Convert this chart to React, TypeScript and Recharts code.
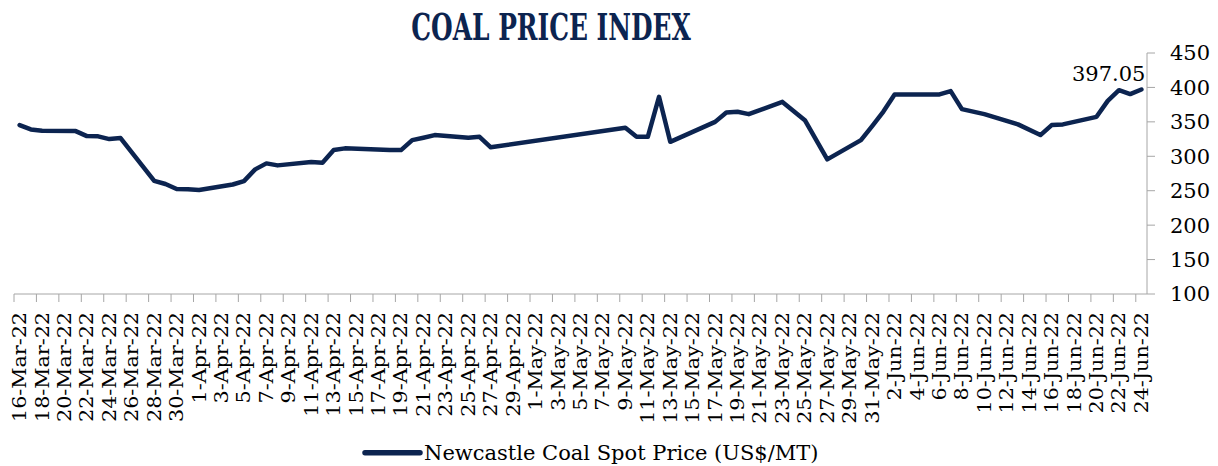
import React from "react";
import { LineChart, Line, XAxis, YAxis, LabelList } from "recharts";

// trading days with a quoted price (gaps = no quote)
const dates = [
  "2022-03-16", "2022-03-17", "2022-03-18", "2022-03-21", "2022-03-22",
  "2022-03-23", "2022-03-24", "2022-03-25", "2022-03-28", "2022-03-29",
  "2022-03-30", "2022-03-31", "2022-04-01", "2022-04-04", "2022-04-05",
  "2022-04-06", "2022-04-07", "2022-04-08", "2022-04-11", "2022-04-12",
  "2022-04-13", "2022-04-14", "2022-04-18", "2022-04-19", "2022-04-20",
  "2022-04-21", "2022-04-22", "2022-04-25", "2022-04-26", "2022-04-27",
  "2022-05-09", "2022-05-10", "2022-05-11", "2022-05-12", "2022-05-13",
  "2022-05-17", "2022-05-18", "2022-05-19", "2022-05-20", "2022-05-23",
  "2022-05-25", "2022-05-27", "2022-05-30", "2022-05-31", "2022-06-01",
  "2022-06-02", "2022-06-03", "2022-06-06", "2022-06-07", "2022-06-08",
  "2022-06-10", "2022-06-13", "2022-06-15", "2022-06-16", "2022-06-17",
  "2022-06-20", "2022-06-21", "2022-06-22", "2022-06-23", "2022-06-24",
];

const prices = [
  345.3, 339, 337, 336.6, 329.3,
  329, 325, 326.4, 264.4, 259.7,
  252.4, 252, 251, 259, 264,
  281, 289.7, 286.8, 291.6, 290.6,
  309, 311.5, 309, 309, 323.5,
  327, 330.8, 327, 328.3, 313,
  341.4, 328.3, 328.3, 386.4, 321,
  350, 363.7, 364.6, 361.2, 379,
  352.5, 295.5, 323.5, 343.8, 365,
  389.8, 389.8, 389.8, 394.6, 368.5,
  361.2, 346.3, 330.8, 345.3, 346.3,
  357.3, 380.5, 396, 390.3, 397.05,
];

const yTicks = [100, 150, 200, 250, 300, 350, 400, 450];
const monthNames = ["Jan", "Feb", "Mar", "Apr", "May", "Jun", "Jul", "Aug", "Sep", "Oct", "Nov", "Dec"];
const startDate = "2022-03-16";
const endDate = "2022-06-24";
const seriesName = "Newcastle Coal Spot Price (US$/MT)";
const title = "COAL PRICE INDEX";

const DAY = 86400000;
const t0 = Date.parse(startDate + "T00:00:00Z");
const dayOf = (d: string) => Math.round((Date.parse(d + "T00:00:00Z") - t0) / DAY);
const lastDay = dayOf(endDate);

const data = dates.map((d, i) => ({ day: dayOf(d), price: prices[i] }));
const xTicks: number[] = [];
for (let d = 0; d <= lastDay; d += 2) xTicks.push(d);

const fmtDay = (n: number) => {
  const dt = new Date(t0 + n * DAY);
  const yy = String(dt.getUTCFullYear()).slice(2);
  return `${dt.getUTCDate()}-${monthNames[dt.getUTCMonth()]}-${yy}`;
};

const W = 1218;
const H = 466;
const PLOT_LEFT = 14;
const PLOT_RIGHT = 1147;
const PLOT_TOP = 53;
const PLOT_BOTTOM = 294;
const CELL = (PLOT_RIGHT - PLOT_LEFT) / (lastDay + 1);

const NAVY = "#0c2450";
const GRAY = "#a6a6a6";
const FONT = "'DejaVu Serif', serif";

const XTick = (props: any) => {
  const { x, y, payload } = props;
  return (
    <g>
      <line x1={x - CELL / 2} x2={x - CELL / 2} y1={y} y2={y + 8} stroke={GRAY} />
      <text
        transform={`translate(${x},${y + 18}) rotate(-90) scale(1.15,1)`}
        textAnchor="end"
        dy="0.36em"
        fontFamily={FONT}
        fontSize={18}
        fill="#000"
      >
        {fmtDay(payload.value)}
      </text>
    </g>
  );
};

const lastIdx = data.length - 1;
const LastLabel = (props: any) => {
  const { x, y, index, value } = props;
  if (index !== lastIdx) return <g />;
  return (
    <text x={x + 4} y={y - 8} textAnchor="end" fontFamily={FONT} fontSize={21} fill="#000">
      {value}
    </text>
  );
};

export default function App() {
  return (
    <div style={{ position: "relative", width: W, height: H, background: "#fff" }}>
      <style>{`body{margin:0}`}</style>
      <LineChart
        width={W}
        height={H}
        data={data}
        margin={{ top: PLOT_TOP, right: 0, bottom: 0, left: PLOT_LEFT }}
      >
        <XAxis
          dataKey="day"
          type="number"
          domain={[-0.5, lastDay + 0.5]}
          ticks={xTicks}
          interval={0}
          height={H - PLOT_BOTTOM}
          tickSize={0}
          tickMargin={0}
          tickLine={false}
          axisLine={{ stroke: GRAY }}
          tick={(p: any) => <XTick {...p} />}
        />
        <YAxis
          orientation="right"
          width={W - PLOT_RIGHT}
          domain={[100, 450]}
          ticks={yTicks}
          interval={0}
          tickSize={8}
          tickMargin={15}
          tickLine={{ stroke: GRAY }}
          axisLine={{ stroke: GRAY }}
          tick={{ fontFamily: FONT, fontSize: 21, fill: "#000" }}
        />
        <Line
          type="linear"
          dataKey="price"
          stroke={NAVY}
          strokeWidth={4.5}
          strokeLinejoin="round"
          strokeLinecap="round"
          dot={false}
          isAnimationActive={false}
        >
          <LabelList dataKey="price" content={(p: any) => <LastLabel {...p} />} />
        </Line>
      </LineChart>
      <svg
        width={W}
        height={H}
        style={{ position: "absolute", left: 0, top: 0, pointerEvents: "none" }}
      >
        <text
          transform="translate(551,40) scale(0.68,1)"
          textAnchor="middle"
          fontFamily={FONT}
          fontWeight="bold"
          fontSize={36.6}
          fill={NAVY}
        >
          {title}
        </text>
        <line x1={365} x2={420} y1={452.7} y2={452.7} stroke={NAVY} strokeWidth={5.5} strokeLinecap="round" />
        <text x={424} y={460} fontFamily={FONT} fontSize={21} fill="#000">
          {seriesName}
        </text>
      </svg>
    </div>
  );
}
